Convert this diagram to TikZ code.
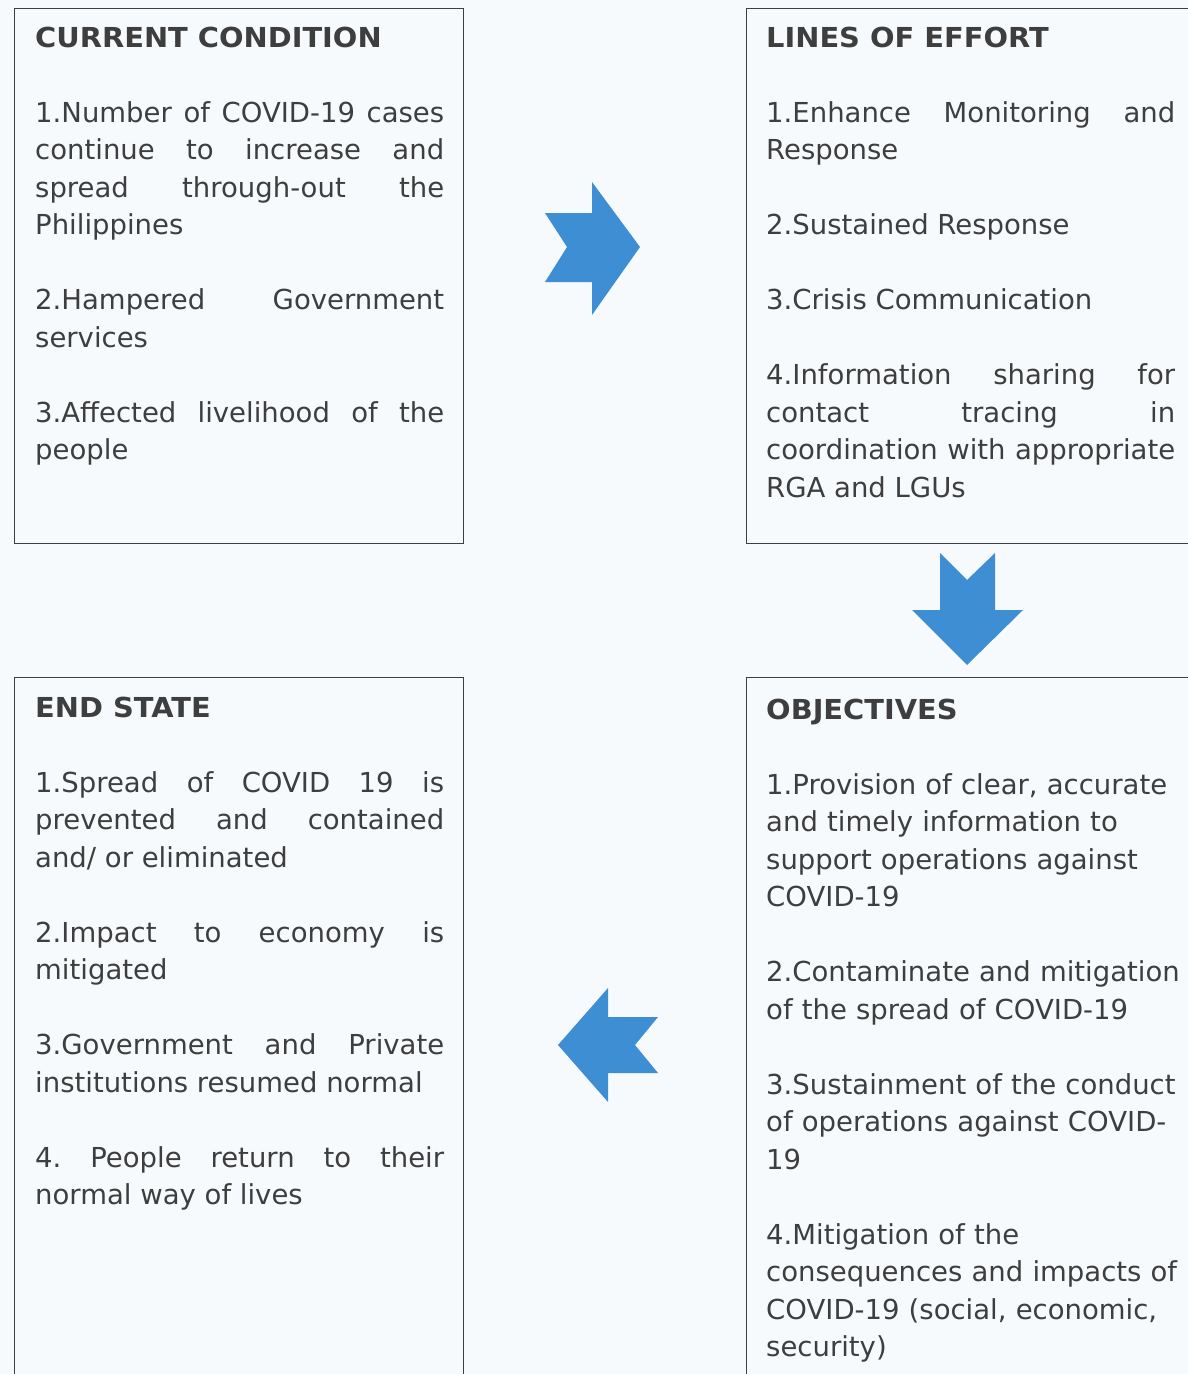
\documentclass[tikz,border=0pt]{standalone}
\usepackage{fontspec}
\setmainfont{DejaVu Sans}[BoldFeatures={FakeStretch=1.05}]
\definecolor{arrowblue}{RGB}{62,142,212}
\definecolor{inkgray}{RGB}{62,62,62}
\definecolor{paper}{RGB}{247,250,252}
\frenchspacing
\hyphenpenalty=10000
\exhyphenpenalty=10000
\tikzset{
  panel/.style={draw=inkgray, line width=1.4pt, anchor=north west, inner sep=0pt},
  panetext/.style={anchor=base west, inner sep=0pt, text width=409pt, text=inkgray,
    font=\fontsize{27.5}{37.5}\selectfont},
  blockarrow/.style={fill=arrowblue}
}
\begin{document}
\begin{tikzpicture}[x=1pt, y=-1pt]
	\clip (0,0) rectangle (1188,1374);
	\fill[paper] (0,0) rectangle (1188,1374);
	
	% the four panels
	\node[panel, minimum width=449pt, minimum height=535pt] (condbox) at (14,8) {};
	\node[panel, minimum width=470pt, minimum height=535pt] (effbox) at (746,8) {};
	\node[panel, minimum width=449pt, minimum height=740pt] (endbox) at (14,677) {};
	\node[panel, minimum width=470pt, minimum height=740pt] (objbox) at (746,677) {};
	
	\node[panetext, align=justify] (condtext) at (35,47) {\textbf{CURRENT CONDITION}\\[37.5pt]
		1.Number of COVID-19 cases\linebreak continue to increase and\linebreak spread through-out the\linebreak Philippines\\[37.5pt]
		2.Hampered Government\linebreak services\\[37.5pt]
		3.Affected livelihood of the\linebreak people};
	
	\node[panetext, align=justify] (efftext) at (766,47) {\textbf{LINES OF EFFORT}\\[37.5pt]
		1.Enhance Monitoring and\linebreak Response\\[37.5pt]
		2.Sustained Response\\[37.5pt]
		3.Crisis Communication\\[37.5pt]
		4.Information sharing for\linebreak contact tracing in\linebreak coordination with appropriate\linebreak RGA and LGUs};
	
	\node[panetext, align=justify] (endtext) at (35,717) {\textbf{END STATE}\\[37.5pt]
		1.Spread of COVID 19 is\linebreak prevented and contained\linebreak and/ or eliminated\\[37.5pt]
		2.Impact to economy is\linebreak mitigated\\[37.5pt]
		3.Government and Private\linebreak institutions resumed normal\\[37.5pt]
		4. People return to their\linebreak normal way of lives};
	
	\node[panetext, align=left, text width=440pt] (objtext) at (766,719) {\textbf{OBJECTIVES}\\[37.5pt]
		1.Provision of clear, accurate\\ and timely information to\\ support operations against\\ COVID-19\\[37.5pt]
		2.Contaminate and mitigation\\ of the spread of COVID-19\\[37.5pt]
		3.Sustainment of the conduct\\ of operations against COVID-\\ 19\\[37.5pt]
		4.Mitigation of the\\ consequences and impacts of\\ COVID-19 (social, economic,\\ security)};
	
	% block arrows between the panels
	\fill[blockarrow] (545,213) -- (592,213) -- (592,182) -- (640,247) -- (592,315) -- (592,282) -- (545,282) -- (567,247) -- cycle;
	\fill[blockarrow] (940,553) -- (967,580) -- (995,553) -- (995,610) -- (1023,610) -- (967,665) -- (912,610) -- (940,610) -- cycle;
	\fill[blockarrow] (558,1045) -- (608,988) -- (608,1017) -- (658,1017) -- (635,1045) -- (658,1073) -- (608,1073) -- (608,1102) -- cycle;
\end{tikzpicture}
\end{document}
